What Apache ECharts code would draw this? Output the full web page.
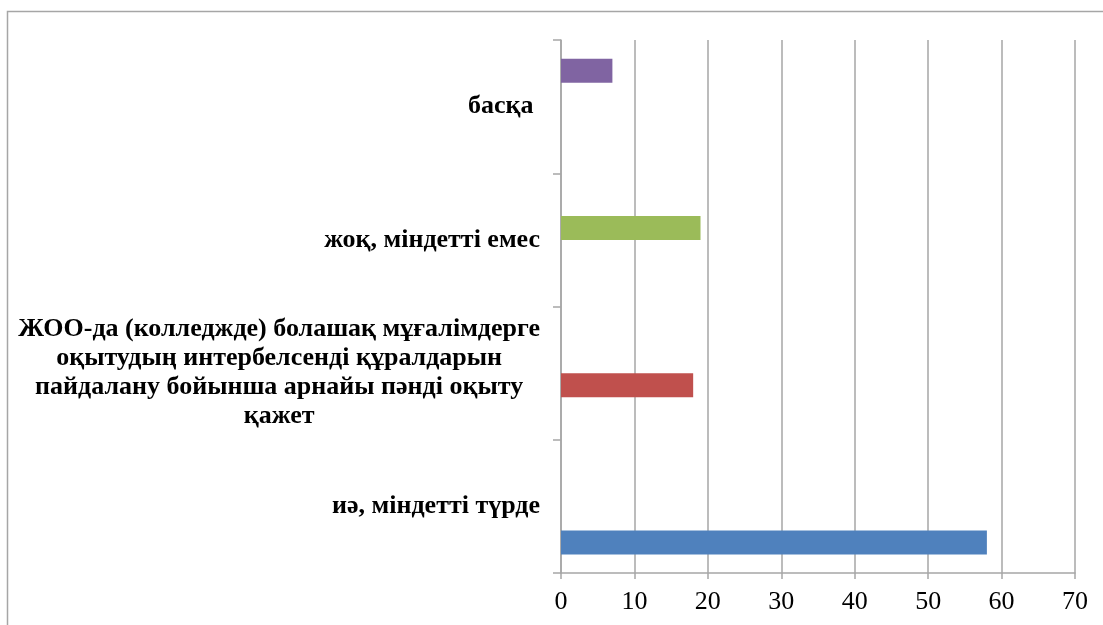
<!DOCTYPE html>
<html>
<head>
<meta charset="utf-8">
<script src="https://cdn.jsdelivr.net/npm/echarts@6/dist/echarts.min.js"></script>
<style>
  html, body { margin: 0; padding: 0; background: #fff; }
  #chart { width: 1103px; height: 625px; }
</style>
</head>
<body>
<div id="chart"></div>
<script>
// categories from bottom to top, as on the picture
const categories = [
  'иә, міндетті түрде',
  'ЖОО-да (колледжде) болашақ мұғалімдерге\nоқытудың интербелсенді құралдарын\nпайдалану бойынша арнайы пәнді оқыту\nқажет',
  'жоқ, міндетті емес',
  'басқа '
]
const values = [58, 18, 19, 7]
const colors = ['#4f81bd', '#c0504d', '#9bbb59', '#8064a2']
const xTicks = { min: 0, max: 70, interval: 10 }

const chart = echarts.init(document.getElementById('chart'))

const gray = '#a6a6a6'
const serif = '"Liberation Serif", "Times New Roman", serif'

// one series per category (Excel style clustered bars)
const series = categories.map((c, i) => ({
  name: c,
  type: 'bar',
  barWidth: 24,
  barGap: '0%',
  data: values.map((v, j) => (j === i ? v : '-')),
  itemStyle: { color: colors[i] },
  silent: true,
}))
// first series is drawn at the top of the band, blue must sit at the bottom
series.reverse()

chart.setOption({
  animation: false,
  grid: { left: 561, right: 28, top: 40, bottom: 52, containLabel: false },
  graphic: [{
    type: 'rect',
    shape: { x: 7.5, y: 11.5, width: 2000, height: 2000 },
    style: { fill: 'none', stroke: gray, lineWidth: 1.5 },
    silent: true,
  }],
  xAxis: {
    type: 'value',
    min: xTicks.min,
    max: xTicks.max,
    interval: xTicks.interval,
    axisLine: { show: true, lineStyle: { color: gray, width: 1.5 } },
    axisTick: { show: true, length: 6, lineStyle: { color: gray, width: 1.5 } },
    splitLine: { show: true, lineStyle: { color: gray, width: 1.5 } },
    axisLabel: { color: '#000', fontFamily: serif, fontSize: 26, margin: 16 },
  },
  yAxis: {
    type: 'category',
    data: categories,
    axisLine: { show: true, lineStyle: { color: gray, width: 1.5 } },
    axisTick: { show: true, length: 8, lineStyle: { color: gray, width: 1.5 } },
    splitLine: { show: false },
    axisLabel: {
      margin: 21,
      interval: 0,
      formatter: v => v.split('\n').map(l => '{c|' + l + '}').join('\n'),
      rich: {
        c: {
          align: 'center',
          color: '#000',
          fontFamily: serif,
          fontWeight: 'bold',
          fontSize: 26,
          lineHeight: 29,
        },
      },
    },
  },
  series,
})
</script>
</body>
</html>
